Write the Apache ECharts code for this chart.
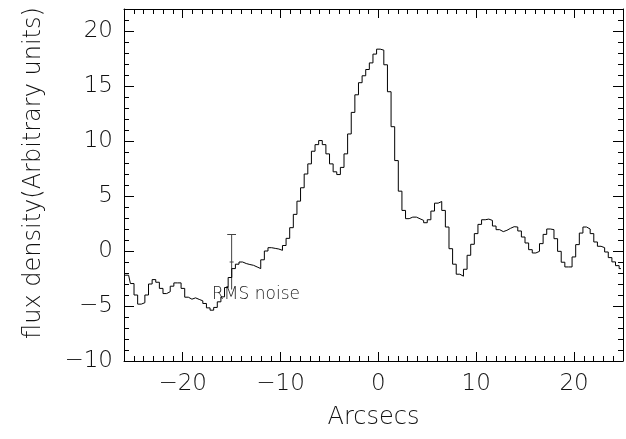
<!DOCTYPE html>
<html>
<head>
<meta charset="utf-8">
<script src="https://cdn.jsdelivr.net/npm/echarts@6/dist/echarts.min.js"></script>
<style>
html,body{margin:0;padding:0;background:#fff;}
#chart{width:626px;height:439px;}
</style>
</head>
<body>
<div id="chart"></div>
<script>
// bin centres: first centre and spacing (arcsec)
const firstBinCentre = -25.9;
const binWidth = 0.37;
// flux density per bin (arbitrary units), left to right
const flux = [
  -2.2, -2.2, -2.96, -4.0, -4.83, -4.7, -4.0, -3.0, -2.6, -2.84,
  -3.4, -3.87, -3.7, -3.2, -2.9, -2.9, -3.4, -4.2, -4.38, -4.26,
  -4.4, -4.53, -4.77, -5.17, -5.38, -5.13, -4.62, -4.17, -3.32, -2.41,
  -1.6, -1.2, -1.0, -1.14, -1.23, -1.3, -1.45, -1.6, -0.8, 0.0,
  0.3, 0.24, 0.18, 0.06, 0.5, 1.15, 2.12, 3.33, 4.53, 5.75,
  7.0, 7.92, 9.07, 9.67, 10.04, 9.67, 8.83, 7.92, 7.2, 6.95,
  7.6, 8.83, 10.64, 12.6, 14.2, 15.3, 15.93, 16.5, 17.1, 17.9,
  18.35, 18.26, 16.93, 14.48, 11.3, 8.22, 5.44, 3.69, 2.94, 3.08,
  3.08, 2.93, 2.78, 2.57, 2.84, 3.63, 4.35, 4.5, 3.69, 2.18,
  0.21, -1.2, -2.11, -2.29, -1.66, -0.39, 0.61, 1.58, 2.42, 2.84,
  2.9, 2.78, 2.27, 1.94, 1.76, 1.88, 2.06, 2.21, 2.18, 1.82,
  1.27, 0.73, 0.12, -0.18, -0.03, 0.67, 1.51, 2.0, 1.94, 1.12,
  -0.03, -1.02, -1.45, -1.45, -0.54, 0.58, 1.63, 2.18, 2.0, 1.58,
  0.82, 0.43, 0.3, -0.09, -0.6, -0.99, -1.33, -1.6
];
// RMS noise error bar
const rmsX = -15;
const rmsCentre = -1;
const rmsHalf = 2.5;
const rmsLabel = 'RMS noise';
const rmsLabelPos = [-17, -4.0];
// axes
const xRange = [-26, 25];
const yRange = [-10, 22];
const xTickLabels = [-20, -10, 0, 10, 20];
const yTickLabels = [-10, -5, 0, 5, 10, 15, 20];
const xTitle = 'Arcsecs';
const yTitle = 'flux density(Arbitrary units)';

const xMinor = [], yMinor = [];
for (let v = Math.ceil(xRange[0]); v <= xRange[1]; v++) xMinor.push(v);
for (let v = Math.ceil(yRange[0]); v <= yRange[1]; v++) yMinor.push(v);

const FONT = '"DejaVu Sans", sans-serif';
const fmt = v => String(v).replace('-', '\u2212');
const lineStyle = { color: '#000', width: 1 };

const data = flux.map((v, i) => [firstBinCentre + i * binWidth, v]);

function xAx(pos, major, withLabels) {
  return {
    type: 'value', position: pos, min: xRange[0], max: xRange[1],
    axisLine: { show: major, onZero: false, lineStyle },
    axisTick: { show: true, inside: true, length: major ? 9 : 5,
      customValues: major ? xTickLabels : xMinor, lineStyle },
    axisLabel: withLabels ? { show: true, customValues: xTickLabels, formatter: fmt,
      fontSize: 23, fontFamily: FONT, fontWeight: 200, color: '#111', margin: 12 } : { show: false },
    splitLine: { show: false },
    name: withLabels ? xTitle : '', nameLocation: 'middle', nameGap: 45,
    nameTextStyle: { fontSize: 24, fontFamily: FONT, fontWeight: 200, color: '#111' }
  };
}
function yAx(pos, major, withLabels) {
  return {
    type: 'value', position: pos, min: yRange[0], max: yRange[1],
    axisLine: { show: major, onZero: false, lineStyle },
    axisTick: { show: true, inside: true, length: major ? 10 : 5,
      customValues: major ? yTickLabels : yMinor, lineStyle },
    axisLabel: withLabels ? { show: true, customValues: yTickLabels, formatter: fmt,
      fontSize: 23, fontFamily: FONT, fontWeight: 200, color: '#111', margin: 11 } : { show: false },
    splitLine: { show: false },
    name: withLabels ? yTitle : '', nameLocation: 'middle', nameGap: 78,
    nameTextStyle: { fontSize: 24, fontFamily: FONT, fontWeight: 200, color: '#111',
      padding: [0, 0, 0, 24] }
  };
}

const chart = echarts.init(document.getElementById('chart'), null, { renderer: 'canvas' });
chart.setOption({
  animation: false,
  backgroundColor: '#fff',
  grid: { left: 124, right: 3, top: 9, bottom: 78, containLabel: false },
  xAxis: [xAx('bottom', true, true), xAx('bottom', false, false), xAx('top', true, false), xAx('top', false, false)],
  yAxis: [yAx('left', true, true), yAx('left', false, false), yAx('right', true, false), yAx('right', false, false)],
  series: [
    {
      type: 'line', data, step: 'middle', showSymbol: false, symbol: 'none',
      xAxisIndex: 0, yAxisIndex: 0, silent: true, clip: true,
      lineStyle: { color: '#000', width: 1 }
    },
    {
      type: 'custom', xAxisIndex: 0, yAxisIndex: 0, silent: true,
      data: [[rmsX, rmsCentre]],
      renderItem: (params, api) => {
        const top = api.coord([rmsX, rmsCentre + rmsHalf]);
        const bot = api.coord([rmsX, rmsCentre - rmsHalf]);
        const mid = api.coord([rmsX, rmsCentre]);
        const capW = api.size([0.45, 0])[0];
        const txt = api.coord(rmsLabelPos);
        const st = { stroke: '#444', lineWidth: 1 };
        return {
          type: 'group',
          children: [
            { type: 'line', shape: { x1: top[0], y1: top[1], x2: bot[0], y2: bot[1] }, style: st },
            { type: 'line', shape: { x1: top[0] - capW, y1: top[1], x2: top[0] + capW, y2: top[1] }, style: st },
            { type: 'line', shape: { x1: mid[0] - 2, y1: mid[1], x2: mid[0] + 2, y2: mid[1] }, style: st },
            { type: 'text', style: { text: rmsLabel, x: txt[0], y: txt[1], fill: '#222',
              font: '200 17px "DejaVu Sans", sans-serif', verticalAlign: 'middle', align: 'left' } }
          ]
        };
      }
    }
  ]
});
</script>
</body>
</html>
